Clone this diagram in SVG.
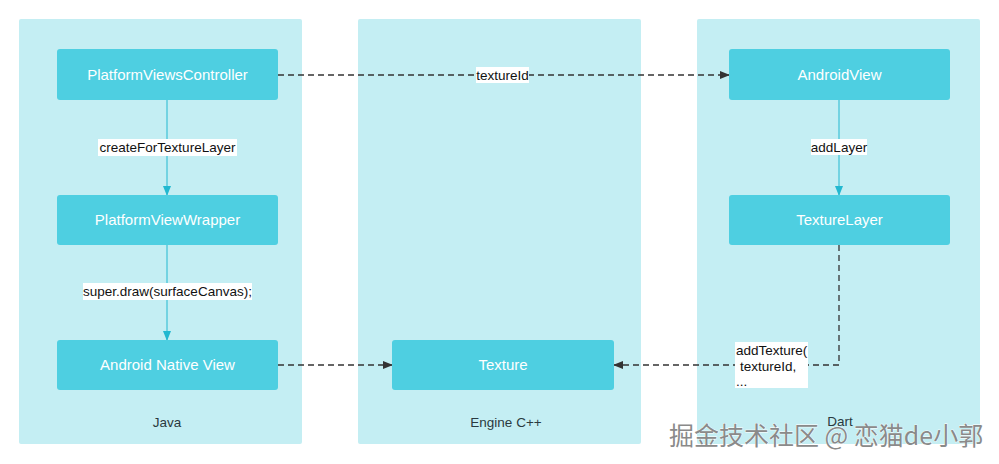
<svg xmlns="http://www.w3.org/2000/svg" width="999" height="464" viewBox="0 0 999 464">
<style>
.panel{fill:#c4eef3}
.node{fill:#4ecfe1}
.nt{font-family:"Liberation Sans",Arial,sans-serif;font-size:15px;fill:#fff;text-anchor:middle}
.pt{font-family:"Liberation Sans",Arial,sans-serif;font-size:13.5px;fill:#2a3a40;text-anchor:middle}
.lt{font-family:"Liberation Sans",Arial,sans-serif;font-size:13.5px;fill:#111}
.lb{fill:#fff}
.dash{fill:none;stroke:#333;stroke-width:1.3;stroke-dasharray:6 4}
.solid{fill:none;stroke:#22b8d0;stroke-width:1}
.wm{font-family:"Noto Sans CJK SC","Liberation Sans",sans-serif;font-size:25px;fill:#8a8a8a;stroke:#fff;stroke-width:0.8;paint-order:stroke}
</style>
<defs>
<marker id="ad" markerWidth="10" markerHeight="8" refX="9" refY="4" orient="auto" markerUnits="userSpaceOnUse"><path d="M0,0 L10,4 L0,8 z" fill="#333"/></marker>
<marker id="at" markerWidth="10" markerHeight="8" refX="9" refY="4" orient="auto" markerUnits="userSpaceOnUse"><path d="M0,0 L10,4 L0,8 z" fill="#22b8d0"/></marker>
</defs>
<rect width="999" height="464" fill="#fff"/>
<g id="panel-java"><rect class="panel" x="19" y="19" width="283" height="425" rx="2"/><text class="pt" x="167" y="427">Java</text></g>
<g id="panel-engine"><rect class="panel" x="358" y="19" width="283" height="425" rx="2"/><text class="pt" x="506" y="427">Engine C++</text></g>
<g id="panel-dart"><rect class="panel" x="697" y="19" width="283" height="425" rx="2"/><text class="pt" x="840" y="426">Dart</text></g>
<g id="connectors">
<path class="dash" d="M278,75 H729" marker-end="url(#ad)"/>
<path class="dash" d="M278,365 H392" marker-end="url(#ad)"/>
<path class="dash" d="M839,245 V365 H614" marker-end="url(#ad)"/>
<path class="solid" d="M167,100 V195" marker-end="url(#at)"/>
<path class="solid" d="M167,245 V340" marker-end="url(#at)"/>
<path class="solid" d="M839,100 V195" marker-end="url(#at)"/>
<rect class="lb" x="476" y="67" width="53" height="16"/><text class="lt" x="502.5" y="80" text-anchor="middle">textureId</text>
<rect class="lb" x="98" y="139" width="139" height="17"/><text class="lt" x="167.5" y="152" text-anchor="middle">createForTextureLayer</text>
<rect class="lb" x="83" y="283" width="169" height="17"/><text class="lt" x="167.5" y="296" text-anchor="middle">super.draw(surfaceCanvas);</text>
<rect class="lb" x="811" y="139" width="56" height="16"/><text class="lt" x="839" y="152" text-anchor="middle">addLayer</text>
<rect class="lb" x="735" y="342" width="73" height="46"/>
<text class="lt" x="736" y="355">addTexture(</text>
<text class="lt" x="740" y="371">textureId,</text>
<text class="lt" x="736" y="386">...</text>
</g>
<g id="n-pvc"><rect class="node" x="57" y="49" width="221" height="51" rx="3"/><text class="nt" x="167.5" y="80">PlatformViewsController</text></g>
<g id="n-pvw"><rect class="node" x="57" y="195" width="221" height="50" rx="3"/><text class="nt" x="167.5" y="225">PlatformViewWrapper</text></g>
<g id="n-anv"><rect class="node" x="57" y="340" width="221" height="50" rx="3"/><text class="nt" x="167.5" y="370">Android Native View</text></g>
<g id="n-tex"><rect class="node" x="392" y="340" width="222" height="50" rx="3"/><text class="nt" x="503" y="370">Texture</text></g>
<g id="n-av"><rect class="node" x="729" y="49" width="221" height="51" rx="3"/><text class="nt" x="839.5" y="80">AndroidView</text></g>
<g id="n-tl"><rect class="node" x="729" y="195" width="221" height="50" rx="3"/><text class="nt" x="839.5" y="225">TextureLayer</text></g>
<text class="wm" x="669" y="445">掘金技术社区 @ 恋猫de小郭</text>
</svg>
